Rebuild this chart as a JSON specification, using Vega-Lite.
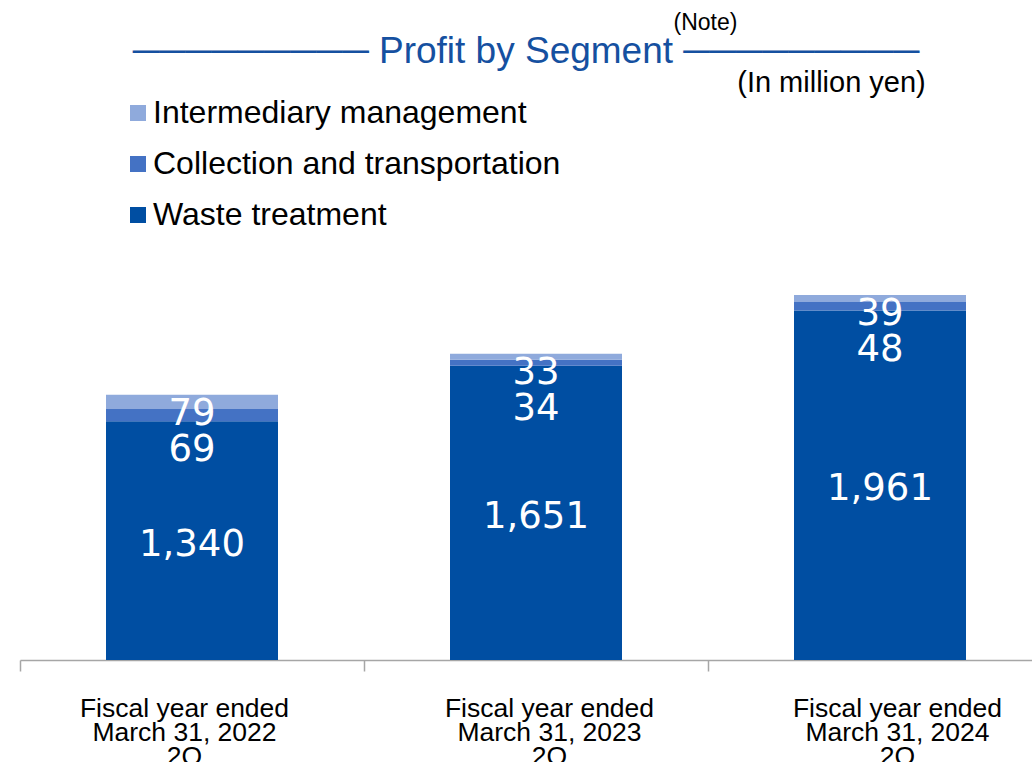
{
  "$schema": "https://vega.github.io/schema/vega-lite/v6.json",
  "autosize": {"type": "none"},
  "width": 1012,
  "height": 420,
  "padding": {"left": 20, "top": 240, "right": 0, "bottom": 102},
  "background": "white",
  "config": {"view": {"stroke": null}},
  "title": {
    "text": "───────── Profit by Segment ─────────",
    "frame": "group",
    "anchor": "middle",
    "baseline": "alphabetic",
    "offset": -89,
    "font": "Liberation Sans",
    "fontSize": 37,
    "fontWeight": "normal",
    "color": "#1550A0"
  },
  "data": {
    "values": [
      {"period": "Fiscal year ended|March 31, 2022|2Q", "segment": "Waste treatment", "value": 1340},
      {"period": "Fiscal year ended|March 31, 2022|2Q", "segment": "Collection and transportation", "value": 69},
      {"period": "Fiscal year ended|March 31, 2022|2Q", "segment": "Intermediary management", "value": 79},
      {"period": "Fiscal year ended|March 31, 2023|2Q", "segment": "Waste treatment", "value": 1651},
      {"period": "Fiscal year ended|March 31, 2023|2Q", "segment": "Collection and transportation", "value": 34},
      {"period": "Fiscal year ended|March 31, 2023|2Q", "segment": "Intermediary management", "value": 33},
      {"period": "Fiscal year ended|March 31, 2024|2Q", "segment": "Waste treatment", "value": 1961},
      {"period": "Fiscal year ended|March 31, 2024|2Q", "segment": "Collection and transportation", "value": 48},
      {"period": "Fiscal year ended|March 31, 2024|2Q", "segment": "Intermediary management", "value": 39}
    ]
  },
  "encoding": {
    "x": {
      "field": "period",
      "type": "nominal",
      "sort": null,
      "scale": {"range": [0, 1032], "paddingInner": 0.5, "paddingOuter": 0.25},
      "axis": {
        "title": "(Note)",
        "titleX": 685,
        "titleY": -638,
        "titleAlign": "center",
        "titleBaseline": "middle",
        "titleFont": "Liberation Sans",
        "titleFontSize": 23,
        "titleFontWeight": "normal",
        "titleColor": "#000000",
        "labelExpr": "split(datum.label, '|')",
        "labelAngle": 0,
        "labelFont": "Liberation Sans",
        "labelFontSize": 26.5,
        "labelLineHeight": 24,
        "labelLimit": 400,
        "labelColor": "#000000",
        "labelBaseline": "top",
        "labelPadding": 24,
        "labelOverlap": false,
        "tickOffset": -172,
        "labelOffset": {"expr": "datum.index < 0.25 ? 164 : datum.index < 0.75 ? 185 : 189"},
        "tickSize": 11,
        "tickColor": "#A6A6A6",
        "tickWidth": 1.5,
        "domainColor": "#A6A6A6",
        "domainWidth": 1.5,
        "grid": false
      }
    }
  },
  "layer": [
    {
      "transform": [
        {"calculate": "indexof(['Waste treatment', 'Collection and transportation', 'Intermediary management'], datum.segment)", "as": "stackRank"}
      ],
      "mark": {"type": "bar"},
      "encoding": {
        "y": {
          "field": "value",
          "type": "quantitative",
          "stack": "zero",
          "scale": {"domain": [0, 2357], "nice": false, "zero": true},
          "axis": {
            "title": "(In million yen)",
            "domain": false,
            "ticks": false,
            "labels": false,
            "grid": false,
            "titleAngle": 0,
            "titleX": 811,
            "titleY": -158,
            "titleAlign": "center",
            "titleBaseline": "middle",
            "titleFont": "Liberation Sans",
            "titleFontSize": 29,
            "titleFontWeight": "normal",
            "titleColor": "#000000"
          }
        },
        "order": {"field": "stackRank", "type": "quantitative", "sort": "ascending"},
        "color": {
          "field": "segment",
          "type": "nominal",
          "sort": ["Intermediary management", "Collection and transportation", "Waste treatment"],
          "scale": {
            "domain": ["Intermediary management", "Collection and transportation", "Waste treatment"],
            "range": ["#8FAADC", "#4472C4", "#004EA2"]
          },
          "legend": {
            "orient": "none",
            "legendX": 102,
            "legendY": -143,
            "title": null,
            "symbolType": "square",
            "symbolSize": 256,
            "symbolStrokeWidth": 0,
            "labelFont": "Liberation Sans",
            "labelFontSize": 32,
            "labelColor": "#000000",
            "labelOffset": -1,
            "labelLimit": 600,
            "rowPadding": 19,
            "padding": 0
          }
        }
      }
    },
    {
      "transform": [{"filter": "datum.segment == 'Waste treatment'"}],
      "mark": {"type": "text", "font": "DejaVu Sans", "fontSize": 37, "color": "#FFFFFF", "baseline": "middle", "dy": 4},
      "encoding": {
        "y": {"field": "value", "type": "quantitative", "stack": "zero", "bandPosition": 0.5, "scale": {"domain": [0, 2357], "nice": false, "zero": true},
          "axis": {
            "title": "(In million yen)",
            "domain": false,
            "ticks": false,
            "labels": false,
            "grid": false,
            "titleAngle": 0,
            "titleX": 811,
            "titleY": -158,
            "titleAlign": "center",
            "titleBaseline": "middle",
            "titleFont": "Liberation Sans",
            "titleFontSize": 29,
            "titleFontWeight": "normal",
            "titleColor": "#000000"
          }},
        "text": {"field": "value", "type": "quantitative", "format": ","}
      }
    },
    {
      "transform": [
        {"joinaggregate": [{"op": "sum", "field": "value", "as": "total"}], "groupby": ["period"]},
        {"filter": "datum.segment == 'Collection and transportation'"}
      ],
      "mark": {"type": "text", "font": "DejaVu Sans", "fontSize": 37, "color": "#FFFFFF", "baseline": "middle", "dy": 55},
      "encoding": {
        "y": {"field": "total", "type": "quantitative", "scale": {"domain": [0, 2357], "nice": false, "zero": true},
          "axis": {
            "title": "(In million yen)",
            "domain": false,
            "ticks": false,
            "labels": false,
            "grid": false,
            "titleAngle": 0,
            "titleX": 811,
            "titleY": -158,
            "titleAlign": "center",
            "titleBaseline": "middle",
            "titleFont": "Liberation Sans",
            "titleFontSize": 29,
            "titleFontWeight": "normal",
            "titleColor": "#000000"
          }},
        "text": {"field": "value", "type": "quantitative", "format": ","}
      }
    },
    {
      "transform": [
        {"joinaggregate": [{"op": "sum", "field": "value", "as": "total"}], "groupby": ["period"]},
        {"filter": "datum.segment == 'Intermediary management'"}
      ],
      "mark": {"type": "text", "font": "DejaVu Sans", "fontSize": 37, "color": "#FFFFFF", "baseline": "middle", "dy": 19},
      "encoding": {
        "y": {"field": "total", "type": "quantitative", "scale": {"domain": [0, 2357], "nice": false, "zero": true},
          "axis": {
            "title": "(In million yen)",
            "domain": false,
            "ticks": false,
            "labels": false,
            "grid": false,
            "titleAngle": 0,
            "titleX": 811,
            "titleY": -158,
            "titleAlign": "center",
            "titleBaseline": "middle",
            "titleFont": "Liberation Sans",
            "titleFontSize": 29,
            "titleFontWeight": "normal",
            "titleColor": "#000000"
          }},
        "text": {"field": "value", "type": "quantitative", "format": ","}
      }
    }
  ]
}
